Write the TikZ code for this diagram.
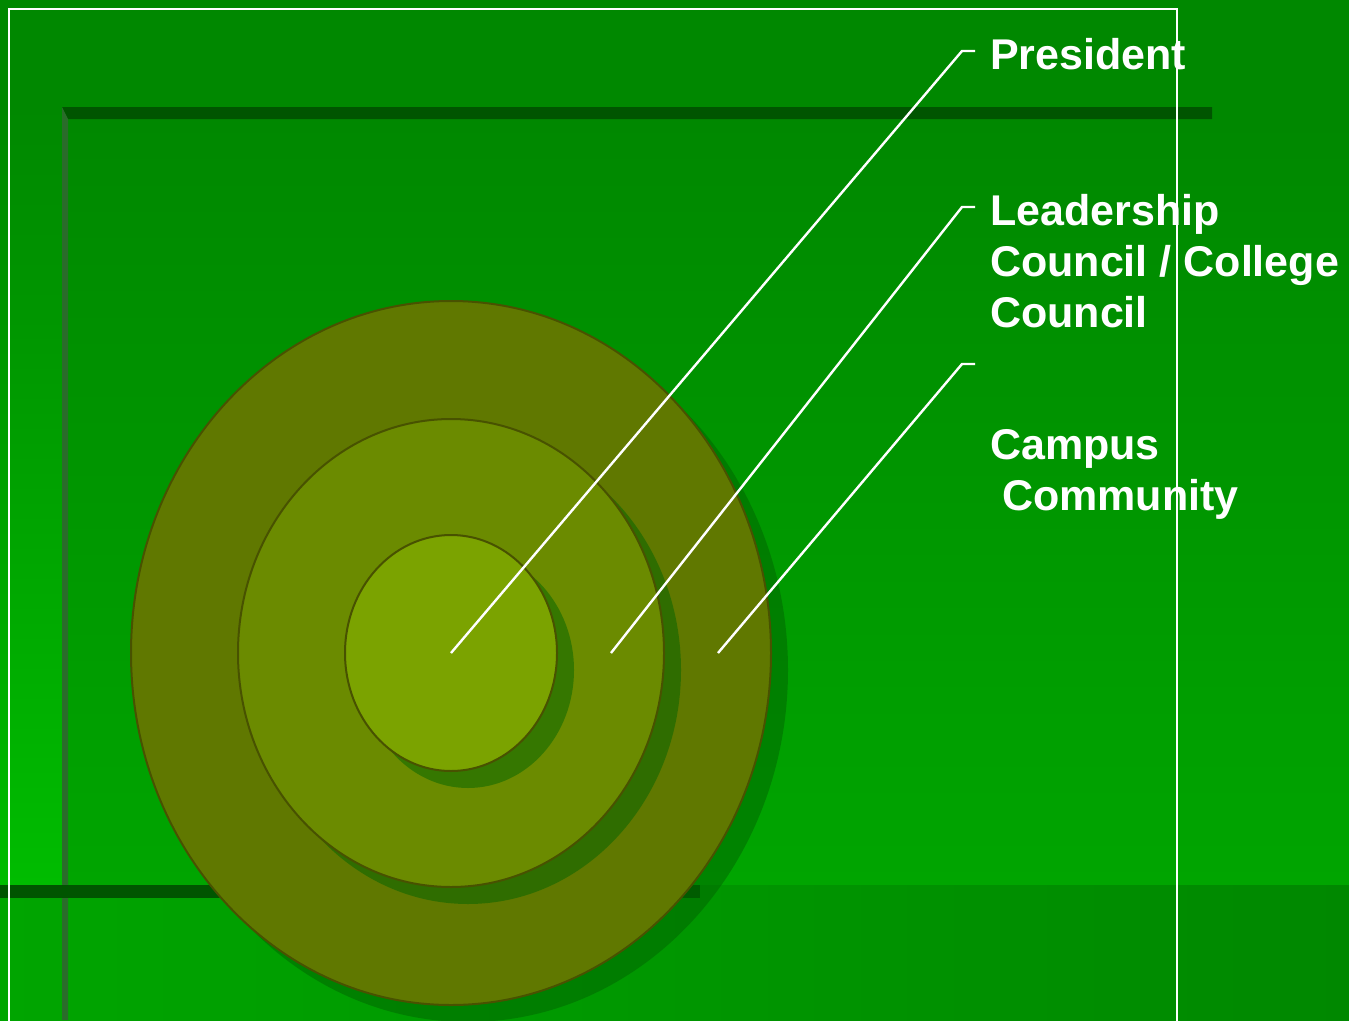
\documentclass[tikz,border=0pt]{standalone}
\usepackage{fontspec}
\setmainfont{Liberation Sans}
\definecolor{bgA}{RGB}{0,136,0}
\definecolor{bgB}{RGB}{0,165,0}
\definecolor{bandB}{RGB}{0,188,0}
\definecolor{darkbar}{RGB}{0,85,0}
\definecolor{vlinec}{RGB}{42,108,42}
\definecolor{ringO}{RGB}{96,120,0}
\definecolor{ringM}{RGB}{107,139,0}
\definecolor{ringI}{RGB}{123,163,0}
\definecolor{rimc}{RGB}{72,82,0}
\definecolor{shad}{RGB}{0,100,0}
\begin{document}
\begin{tikzpicture}[x=1pt,y=-1pt,
  disc/.style={draw=rimc, line width=2pt},
  discshadow/.style={fill=shad, opacity=0.5},
  leader/.style={draw=white, line width=2.4pt},
  label/.style={text=white, font=\bfseries\fontsize{43}{51}\selectfont, inner sep=0pt, anchor=base west, align=left},
  frame/.style={draw=white, line width=2.2pt}]
\useasboundingbox (0,0) rectangle (1349,1020);
% background
\fill[bgA] (0,0) rectangle (1349,1020);
\shade[top color=bgA, bottom color=bandB] (0,107) rectangle (62,885);
\shade[top color=bgA, bottom color=bgB] (68,119) rectangle (1349,885);
\shade[left color=bgB, right color=bgA] (0,885) rectangle (1349,1020);
% dark bars
\fill[darkbar] (62,107) -- (1212,107) -- (1212,119) -- (68,119) -- cycle;
\fill[vlinec] (62,107) -- (68,119) -- (68,1020) -- (62,1020) -- cycle;
\fill[darkbar] (0,885) rectangle (700,898);
% concentric discs
\fill[discshadow] (468,670) ellipse [x radius=320pt, y radius=352pt];
\path[disc, fill=ringO] (451,653) ellipse [x radius=320pt, y radius=352pt];
\fill[discshadow] (468,670) ellipse [x radius=213pt, y radius=234pt];
\path[disc, fill=ringM] (451,653) ellipse [x radius=213pt, y radius=234pt];
\fill[discshadow] (468,670) ellipse [x radius=106pt, y radius=118pt];
\path[disc, fill=ringI] (451,653) ellipse [x radius=106pt, y radius=118pt];
% coordinates
\coordinate (c1) at (451,653);
\coordinate (c2) at (611,653);
\coordinate (c3) at (718,653);
\coordinate (b1) at (962,51);
\coordinate (b2) at (962,207);
\coordinate (b3) at (962,364);
\coordinate (e1) at (975,51);
\coordinate (e2) at (975,207);
\coordinate (e3) at (975,364);
% labels (base anchor of a multi-line node is the last line's baseline)
\node[label] (pres) at (990,69) {President};
\node[label] (lead) at (990,327) {Leadership\\Council / College\\Council};
\node[label] (camp) at (990,510) {Campus\\\ Community};
% leaders
\draw[leader] (c1) -- (b1) -- (e1);
\draw[leader] (c2) -- (b2) -- (e2);
\draw[leader] (c3) -- (b3) -- (e3);
% frame
\draw[frame] (9,1022) -- (9,9) -- (1177,9) -- (1177,1022);
\end{tikzpicture}
\end{document}
